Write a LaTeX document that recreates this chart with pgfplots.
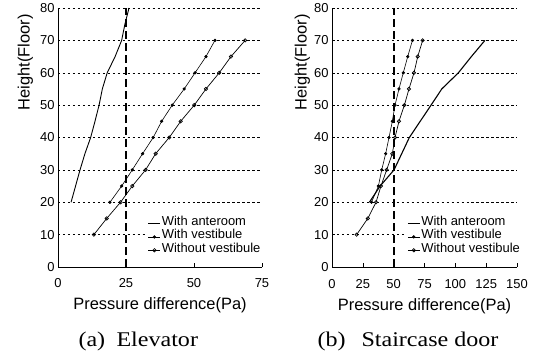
\documentclass[border=0pt]{standalone}
\usepackage{pgfplots}
\pgfplotsset{compat=1.18}
\usepackage{fontspec}
\setmainfont{Liberation Sans}
\newfontfamily\capfont[FakeStretch=1.15]{Liberation Serif}
\begin{document}
\begin{tikzpicture}[x=1bp,y=1bp]
\useasboundingbox (0,0) rectangle (539,354);
\pgfplotsset{
  common/.style={
    scale only axis, height=259bp,
    ymin=0, ymax=80, ytick={0,10,...,80},
    axis x line*=bottom, axis y line*=left,
    axis line style={black, line width=0.8pt},
    ymajorgrids, grid style={black, line width=0.5pt, dash pattern=on 2.5pt off 2.5pt},
    ytick style={draw=none},
    xtick style={black, line width=0.6pt},
    major tick length=4bp,
    tick align=inside,
    /pgf/number format/assume math mode=true,
    tick label style={font=\fontsize{13}{14}\selectfont},
    label style={font=\fontsize{16.5}{18}\selectfont},
    ylabel={Height(Floor)},
    ylabel style={at={(axis description cs:-0.16,0.79)}, anchor=center, rotate=0},
    xlabel={Pressure difference(Pa)},
    legend style={draw=none, fill=white, font=\fontsize{13}{14.5}\selectfont, row sep=0.5bp, inner sep=1bp,
      nodes={inner sep=1bp}},
    legend cell align=left,
    legend image code/.code={\draw[mark repeat=2,mark phase=2,##1] plot coordinates {(0bp,-2bp) (6bp,-2bp) (12bp,-2bp)};},
    clip=false,
  },
  ant/.style={black, line width=0.9pt, mark=+, mark size=1pt},
  ves/.style={black, line width=0.6pt, mark=*, mark size=1.3pt},
  wov/.style={black, line width=0.7pt, mark=o, mark size=1.7pt, mark options={fill=white}},
}
\begin{axis}[common, at={(58bp,87bp)}, anchor=south west, width=204bp,
  xmin=0, xmax=75, xtick={0,25,50,75},
  xticklabel style={yshift=-8bp},
  xlabel style={at={(axis description cs:0.5,-0.103)}, anchor=north},
  legend style={at={(axis description cs:0.435,0.205)}, anchor=north west}]
\addplot[ant, mark=none] coordinates {(4.8,20) (8.1,30) (9.9,35) (12.0,40) (13.6,45) (15.1,50) (16.3,55) (18.1,60) (21.0,65) (23.4,70) (24.6,75) (26.1,80)};
\addlegendentry{With anteroom}
\addplot[ves] coordinates {(19.1,20) (23.4,25) (27.3,30) (31.1,35) (35.0,40) (38.1,45) (42.0,50) (46.4,55) (50.4,60) (54.4,65) (57.7,70)};
\addlegendentry{With vestibule}
\addplot[wov] coordinates {(13.2,10) (17.9,15) (23.0,20) (27.3,25) (32.2,30) (35.9,35) (40.9,40) (45.1,45) (50.1,50) (54.4,55) (59.3,60) (63.6,65) (68.8,70)};
\addlegendentry{Without vestibule}
\addplot[black, line width=1.5pt, dash pattern=on 8bp off 4bp, forget plot] coordinates {(25,0) (25,80)};
\end{axis}
\begin{axis}[common, at={(332bp,87bp)}, anchor=south west, width=185bp,
  xmin=0, xmax=150, xtick={0,25,...,150},
  xticklabel style={yshift=-9bp},
  xlabel style={at={(axis description cs:0.5,-0.11)}, anchor=north},
  legend style={at={(axis description cs:0.40,0.205)}, anchor=north west}]
\addplot[black, line width=1.1pt] coordinates {(30.3,20) (39,25) (50.3,30) (56.5,35) (62.7,40) (71.5,45) (80.3,50) (89,55) (102.5,60) (113,65) (124,70)};
\addlegendentry{With anteroom}
\addplot[ves] coordinates {(32,20) (37.6,25) (40.3,30) (43.5,35) (46.2,40) (48.9,45) (51.1,50) (54.3,55) (57.8,60) (61.4,65) (65.2,70)};
\addlegendentry{With vestibule}
\addplot[wov] coordinates {(20,10) (29,15) (35.7,20) (39.7,25) (44.3,30) (48.9,35) (51.1,40) (54.3,45) (58.7,50) (62.4,55) (66.5,60) (69.5,65) (73.5,70)};
\addlegendentry{Without vestibule}
\addplot[black, line width=1.7pt, dash pattern=on 8bp off 4bp, forget plot] coordinates {(50,0) (50,80)};
\end{axis}
\node[anchor=base west, font=\capfont\fontsize{21}{24}\selectfont] at (75,8) {(a)};
\node[anchor=base west, font=\capfont\fontsize{21}{24}\selectfont] at (113,8) {Elevator};
\node[anchor=base west, font=\capfont\fontsize{21}{24}\selectfont] at (314,8) {(b)};
\node[anchor=base west, font=\capfont\fontsize{21}{24}\selectfont] at (358,8) {Staircase\hspace{6bp}door};
\end{tikzpicture}
\end{document}
